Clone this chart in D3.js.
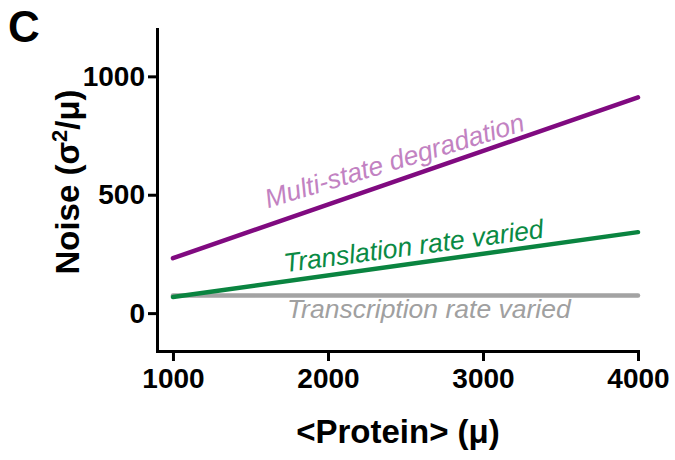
<!DOCTYPE html>
<html>
<head>
<meta charset="utf-8">
<script src="https://cdn.jsdelivr.net/npm/d3@7"></script>
<style>
  body { margin: 0; background: #fff; }
  text { font-family: "Liberation Sans", Arial, Helvetica, sans-serif; }
</style>
</head>
<body>
<script>
// protein mean (x) vs noise (y) for the three models
var protein = [1000, 4000];
var multiState = [232, 911];
var translation = [68, 342];
var transcription = [74, 74];

var xTicks = [1000, 2000, 3000, 4000];
var yTicks = [0, 500, 1000];

var seriesNames = ["Multi-state degradation", "Translation rate varied", "Transcription rate varied"];
var seriesColors = ["#800a80", "#0a8440", "#a3a3a3"];
var labelColors = ["#c282c2", "#0a8a44", "#a0a0a0"];
// where each label sits (data coords) and its tilt
var labelX = [1613, 1723, 1735];
var labelY = [443, 173, -21];
var labelAngle = [-16.8, -7.6, 0];

var width = 675, height = 460;
var svg = d3.select("body").append("svg")
  .attr("width", width)
  .attr("height", height);

var x = d3.scaleLinear().domain([897, 4000]).range([157, 638]);
var y = d3.scaleLinear().domain([-160, 1200]).range([351, 29]);

// axes
var xAxis = svg.append("g")
  .attr("transform", "translate(0," + 351 + ")")
  .call(d3.axisBottom(x).tickValues(xTicks).tickSize(10).tickSizeOuter(0).tickPadding(7).tickFormat(d3.format("d")));
var yAxis = svg.append("g")
  .attr("transform", "translate(" + 157 + ",0)")
  .call(d3.axisLeft(y).tickValues(yTicks).tickSize(9).tickSizeOuter(0).tickPadding(3).tickFormat(d3.format("d")));

[xAxis, yAxis].forEach(function(g) {
  g.select(".domain").attr("stroke", "#000").attr("stroke-width", 3).attr("stroke-linecap", "square");
  g.selectAll(".tick line").attr("stroke", "#000").attr("stroke-width", 3);
  g.selectAll(".tick text")
    .attr("fill", "#000")
    .style("font-family", "'Liberation Sans', Arial, sans-serif")
    .style("font-size", "28px")
    .style("font-weight", "bold");
});

// lines
var data = [multiState, translation, transcription];
var line = d3.line()
  .x(function(d, i) { return x(protein[i]); })
  .y(function(d) { return y(d); });

// draw gray first so colored lines sit on top
[2, 1, 0].forEach(function(k) {
  svg.append("path")
    .datum(data[k])
    .attr("fill", "none")
    .attr("stroke", seriesColors[k])
    .attr("stroke-width", 4.5)
    .attr("stroke-linecap", "round")
    .attr("d", line);
});

// line labels
seriesNames.forEach(function(name, k) {
  var px = x(labelX[k]), py = y(labelY[k]);
  svg.append("text")
    .attr("transform", "translate(" + px + "," + py + ") rotate(" + labelAngle[k] + ")")
    .attr("fill", labelColors[k])
    .style("font-size", "26.5px")
    .style("font-style", "italic")
    .text(name);
});

// axis titles
svg.append("text")
  .attr("x", 398)
  .attr("y", 443)
  .attr("text-anchor", "middle")
  .style("font-size", "33px")
  .style("font-weight", "bold")
  .text("<Protein> (μ)");

var yt = svg.append("text")
  .attr("transform", "translate(79,182) rotate(-90)")
  .attr("text-anchor", "middle")
  .style("font-size", "33px")
  .style("font-weight", "bold");
yt.append("tspan").text("Noise (σ");
yt.append("tspan").attr("dy", -12).style("font-size", "22px").text("2");
yt.append("tspan").attr("dy", 12).text("/μ)");

// panel letter
svg.append("text")
  .attr("x", 8)
  .attr("y", 42)
  .style("font-size", "44px")
  .style("font-weight", "bold")
  .text("C");
</script>
</body>
</html>
